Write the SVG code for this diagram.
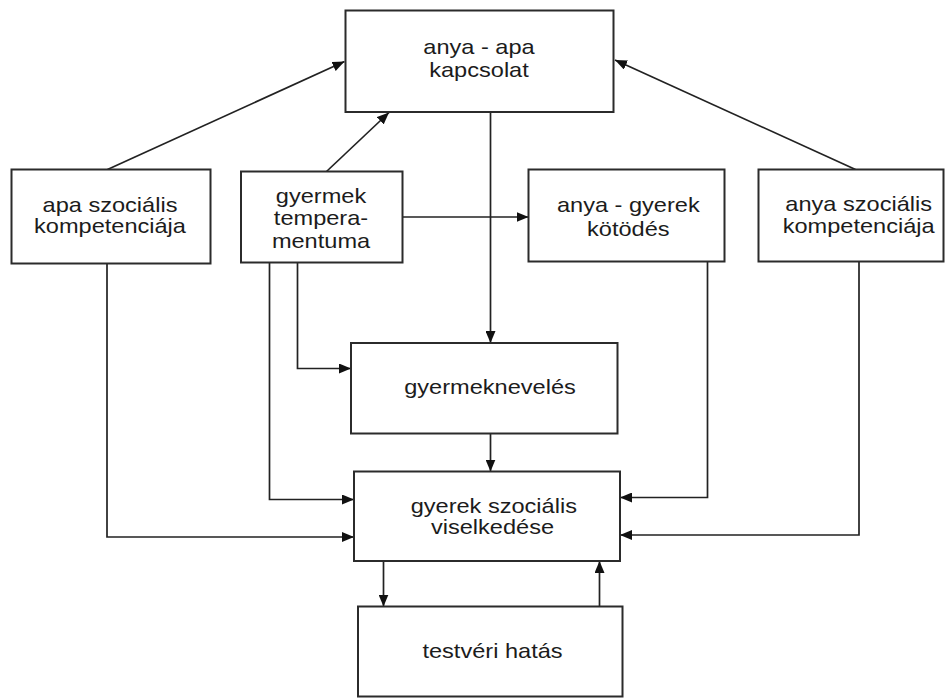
<svg xmlns="http://www.w3.org/2000/svg" width="946" height="698" viewBox="0 0 946 698">
<style>
.box{fill:#fff;stroke:#2b2b2b;stroke-width:2}
.lbl{font-family:"Liberation Sans",Arial,sans-serif;font-size:20.5px;fill:#1c1c1c;text-anchor:middle}
.con{fill:none;stroke:#222;stroke-width:1.7;marker-end:url(#ah)}
</style>
<defs>
<marker id="ah" markerUnits="userSpaceOnUse" markerWidth="12" markerHeight="10" refX="12" refY="5" orient="auto">
<path d="M0,0 L12,5 L0,10 z" fill="#111"/>
</marker>
</defs>
<rect width="946" height="698" fill="#fff"/>
<g id="connectors">
<path class="con" d="M107.5,169.5 L344.5,61.5"/>
<path class="con" d="M326.5,171.5 L389,112.5"/>
<path class="con" d="M855.5,169.5 L615,60"/>
<path class="con" d="M490.5,112 L490.5,343"/>
<path class="con" d="M402.5,217 L528.5,217"/>
<path class="con" d="M297.5,262.5 L297.5,368.5 L351,368.5"/>
<path class="con" d="M269.5,262.5 L269.5,499.5 L354,499.5"/>
<path class="con" d="M107,263.5 L107,537 L354,537"/>
<path class="con" d="M490.5,433.5 L490.5,471.5"/>
<path class="con" d="M707.5,261.5 L707.5,497.5 L620,497.5"/>
<path class="con" d="M859,261.5 L859,535 L620,535"/>
<path class="con" d="M383.5,561 L383.5,606.5"/>
<path class="con" d="M599.5,606.5 L599.5,561"/>
</g>
<g id="anya-apa">
<rect class="box" x="345.5" y="10.5" width="268" height="101.5"/>
<text class="lbl" transform="translate(479 54) scale(1.15 1)">anya - apa</text>
<text class="lbl" transform="translate(479 76.5) scale(1.15 1)">kapcsolat</text>
</g>
<g id="apa-szoc">
<rect class="box" x="11.5" y="169.5" width="199" height="94"/>
<text class="lbl" transform="translate(110 211.7) scale(1.15 1)">apa szociális</text>
<text class="lbl" transform="translate(110 233.3) scale(1.15 1)">kompetenciája</text>
</g>
<g id="gyermek-temp">
<rect class="box" x="241" y="171.5" width="161.5" height="91"/>
<text class="lbl" transform="translate(321 202.7) scale(1.15 1)">gyermek</text>
<text class="lbl" transform="translate(321 225) scale(1.15 1)">tempera-</text>
<text class="lbl" transform="translate(321 247.7) scale(1.15 1)">mentuma</text>
</g>
<g id="anya-gyerek">
<rect class="box" x="528.5" y="169.5" width="196" height="92"/>
<text class="lbl" transform="translate(628.3 211.7) scale(1.15 1)">anya - gyerek</text>
<text class="lbl" transform="translate(628.3 235.7) scale(1.15 1)">kötödés</text>
</g>
<g id="anya-szoc">
<rect class="box" x="758.5" y="169.5" width="185" height="92"/>
<text class="lbl" transform="translate(858.7 211.2) scale(1.15 1)">anya szociális</text>
<text class="lbl" transform="translate(858.7 233.3) scale(1.15 1)">kompetenciája</text>
</g>
<g id="gyermekneveles">
<rect class="box" x="351" y="343" width="266.5" height="90.5"/>
<text class="lbl" transform="translate(490 394) scale(1.15 1)">gyermeknevelés</text>
</g>
<g id="gyerek-szoc">
<rect class="box" x="354" y="471.5" width="266" height="89.5"/>
<text class="lbl" transform="translate(493.8 512.7) scale(1.15 1)">gyerek szociális</text>
<text class="lbl" transform="translate(492.5 534.3) scale(1.15 1)">viselkedése</text>
</g>
<g id="testveri">
<rect class="box" x="358" y="606.5" width="264.5" height="90"/>
<text class="lbl" transform="translate(492.5 658.3) scale(1.15 1)">testvéri hatás</text>
</g>
</svg>
